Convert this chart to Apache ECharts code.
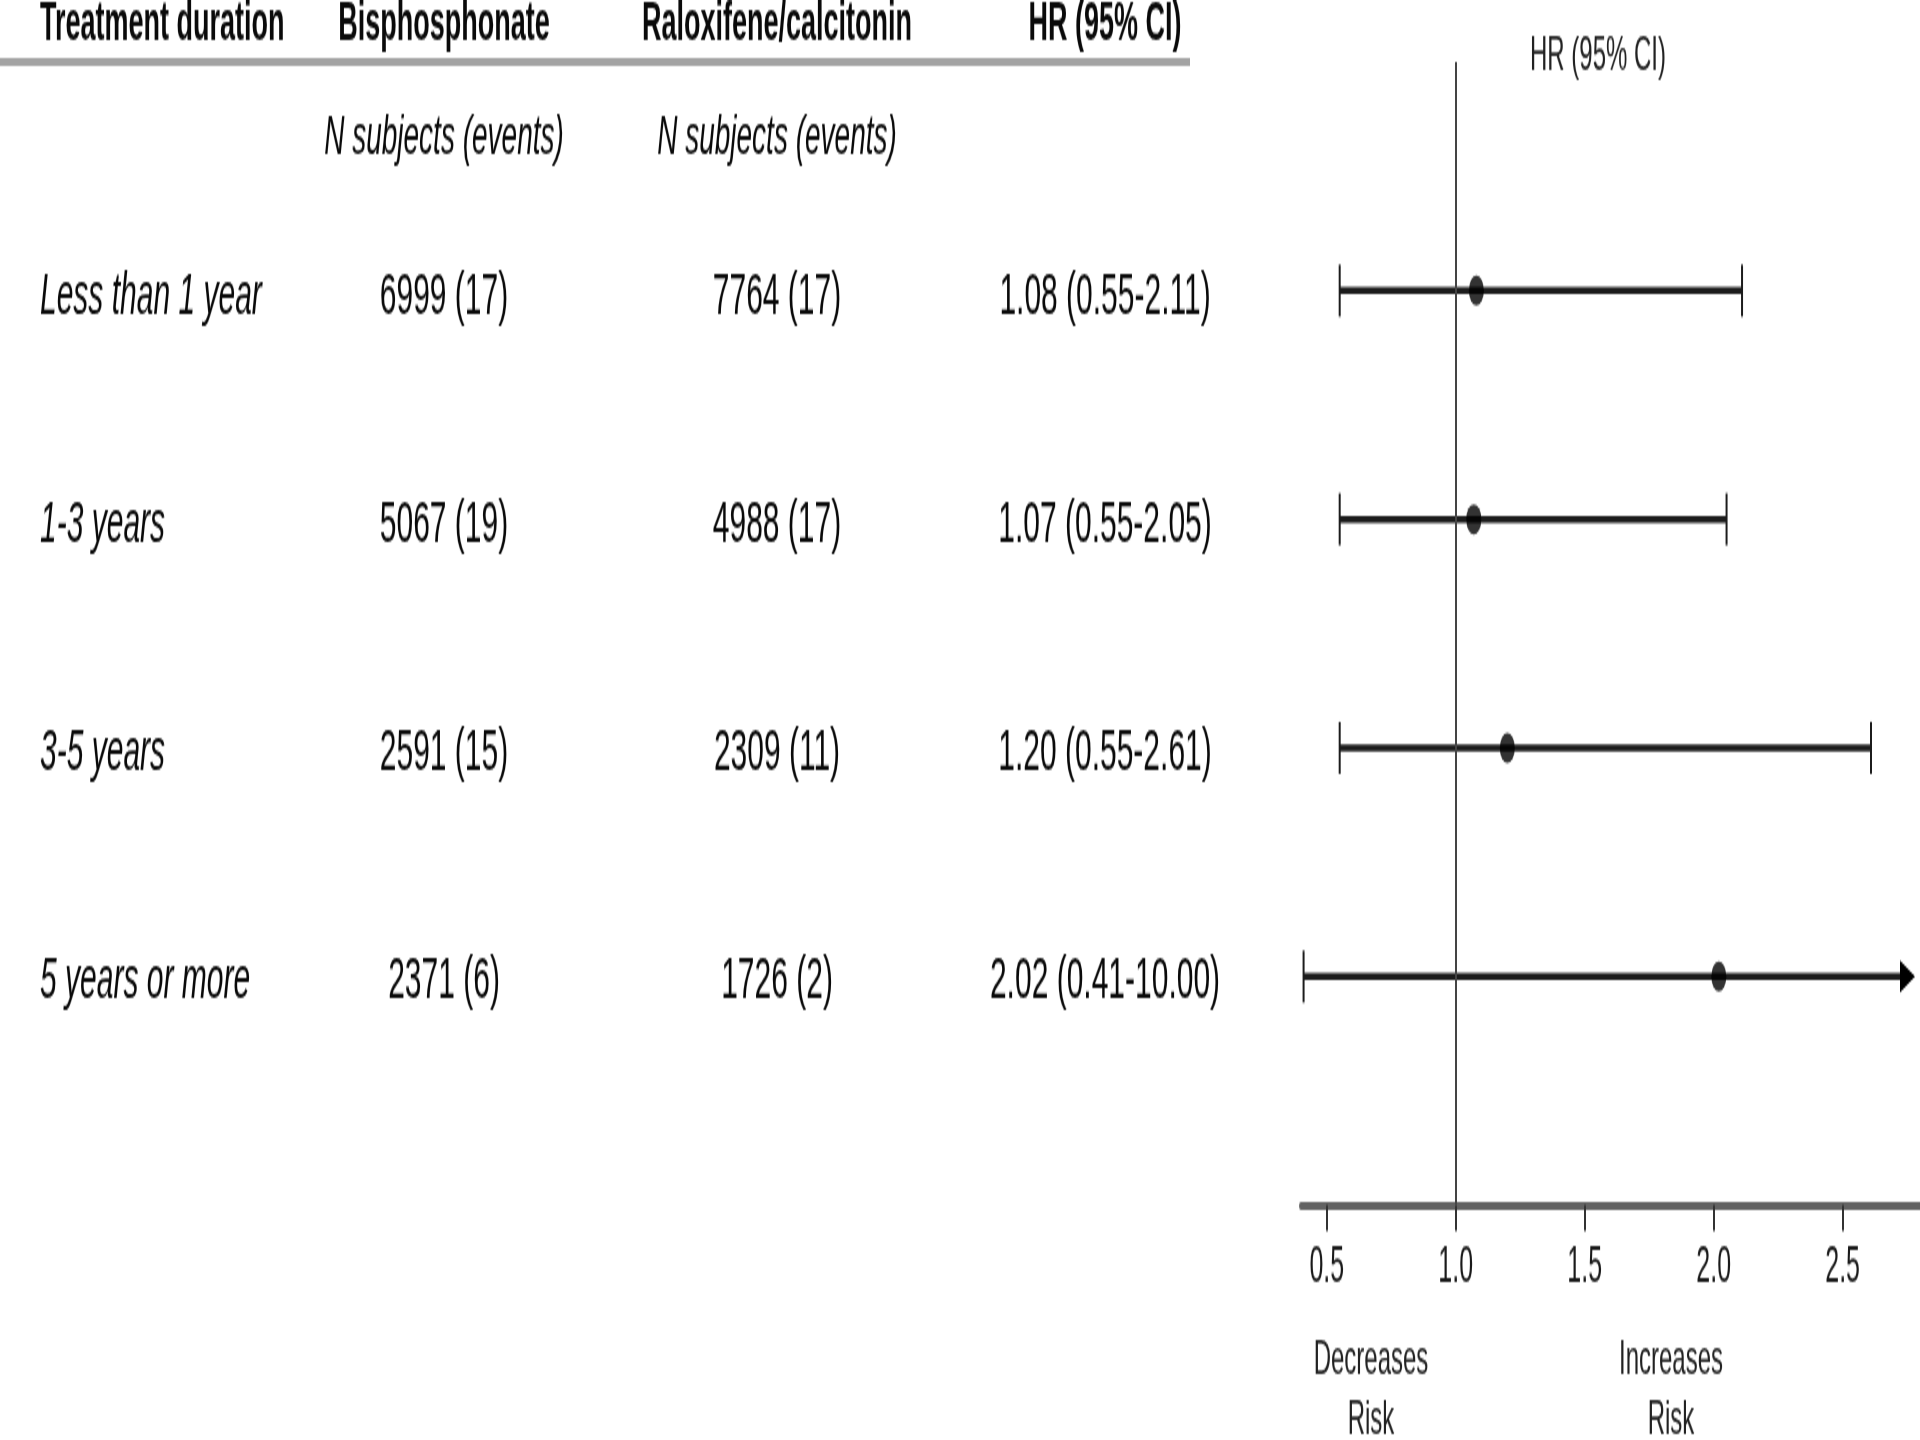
<!DOCTYPE html>
<html>
<head>
<meta charset="utf-8">
<script src="https://cdn.jsdelivr.net/npm/echarts@6/dist/echarts.min.js"></script>
<style>
  html, body { margin: 0; padding: 0; background: #fff; }
  #wrap { width: 1920px; height: 1440px; overflow: hidden; position: relative; background: #fff; }
  #chart { width: 1920px; height: 720px; transform: scaleY(2); transform-origin: 0 0; }
</style>
</head>
<body>
<div id="wrap"><div id="chart"></div></div>
<script>
// ---- data ----
const categories = ['Less than 1 year', '1-3 years', '3-5 years', '5 years or more'];
const bisSubjects = [6999, 5067, 2591, 2371];
const bisEvents = [17, 19, 15, 6];
const ralSubjects = [7764, 4988, 2309, 1726];
const ralEvents = [17, 17, 11, 2];
const hr = [1.08, 1.07, 1.20, 2.02];
const ciLow = [0.55, 0.55, 0.55, 0.41];
const ciHigh = [2.11, 2.05, 2.61, 10.00];
const xTicks = [0.5, 1.0, 1.5, 2.0, 2.5];
const headers = ['Treatment duration', 'Bisphosphonate', 'Raloxifene/calcitonin', 'HR (95% CI)'];
const subHeader = 'N subjects (events)';
const plotTitle = 'HR (95% CI)';
const refValue = 1.0;
const annotations = ['Decreases\nRisk', 'Increases\nRisk'];

// ---- layout (virtual space, stretched 2x vertically by CSS) ----
const X_MIN = 0.4, X_MAX = 2.8;
const FONT = '"Liberation Sans", Arial, Helvetica, sans-serif';
const ROW0 = 145.8, ROW_STEP = 114.2;
const TEXT_DY = 2.5;
const colX = [40, 444, 777, 1105];

const chart = echarts.init(document.getElementById('chart'), null, { renderer: 'canvas' });

const graphics = [];
function txt(x, y, text, opt) {
  graphics.push({
    type: 'text', x: x, y: y, silent: true,
    style: Object.assign({
      text: text, fill: '#0a0a0a', fontFamily: FONT, fontSize: 30,
      textAlign: 'center', textVerticalAlign: 'middle'
    }, opt || {})
  });
}
// header
txt(colX[0], 13, headers[0], { fontWeight: 'bold', fontSize: 27, textAlign: 'left' });
txt(colX[1], 13, headers[1], { fontWeight: 'bold', fontSize: 27 });
txt(colX[2], 13, headers[2], { fontWeight: 'bold', fontSize: 27 });
txt(colX[3], 13, headers[3], { fontWeight: 'bold', fontSize: 27 });
graphics.push({ type: 'rect', silent: true, shape: { x: 0, y: 29, width: 1190, height: 4 }, style: { fill: '#a3a3a3' } });
txt(colX[1], 69.5, subHeader, { fontStyle: 'italic', fontSize: 28 });
txt(colX[2], 69.5, subHeader, { fontStyle: 'italic', fontSize: 28 });
categories.forEach((c, i) => {
  const y = ROW0 + ROW_STEP * i + TEXT_DY;
  txt(colX[0], y, c, { fontStyle: 'italic', textAlign: 'left' });
  txt(colX[1], y, bisSubjects[i] + ' (' + bisEvents[i] + ')');
  txt(colX[2], y, ralSubjects[i] + ' (' + ralEvents[i] + ')');
  txt(colX[3], y, hr[i].toFixed(2) + ' (' + ciLow[i].toFixed(2) + '-' + ciHigh[i].toFixed(2) + ')');
});
// plot title and annotations
txt(1598, 28.5, plotTitle, { fontSize: 24, fill: '#222' });
txt(1371, 695.5, annotations[0], { fontSize: 24, fill: '#222', lineHeight: 29.5 });
txt(1671, 695.5, annotations[1], { fontSize: 24, fill: '#222', lineHeight: 29.5 });

const ciData = categories.map((c, i) => [ciLow[i], ciHigh[i], i]);
const ptData = categories.map((c, i) => [hr[i], i]);

const option = {
  backgroundColor: '#fff',
  animation: false,
  grid: { left: 1301, right: 0, top: 31, height: 571.6 },
  xAxis: {
    type: 'value', min: X_MIN, max: X_MAX, position: 'bottom',
    axisLine: { show: true, onZero: false, lineStyle: { color: '#626262', width: 4 } },
    axisTick: { show: true, customValues: xTicks, length: 13, inside: false, lineStyle: { color: '#333', width: 2 } },
    axisLabel: { show: true, customValues: xTicks, formatter: v => v.toFixed(1), fontSize: 25, color: '#1a1a1a', fontFamily: FONT, margin: 19 },
    splitLine: { show: false }
  },
  yAxis: { type: 'value', min: -1, max: 4, inverse: true, show: false },
  series: [
    {
      type: 'custom', name: 'CI', data: ciData, clip: false,
      encode: { x: [0, 1], y: 2 },
      renderItem: function (params, api) {
        const lo = api.value(0), hi = api.value(1), yi = api.value(2);
        const clipped = hi > X_MAX;
        const p1 = api.coord([lo, yi]);
        const p2 = api.coord([clipped ? X_MAX : hi, yi]);
        const tipX = p2[0] - 5;
        const children = [];
        children.push({ type: 'line', shape: { x1: p1[0], y1: p1[1], x2: clipped ? tipX - 12 : p2[0], y2: p1[1] }, style: { stroke: '#1c1c1c', lineWidth: 3.5 } });
        children.push({ type: 'line', shape: { x1: p1[0], y1: p1[1] - 13, x2: p1[0], y2: p1[1] + 13 }, style: { stroke: '#1c1c1c', lineWidth: 2 } });
        if (clipped) {
          children.push({ type: 'polygon', shape: { points: [[tipX - 15, p2[1] - 8], [tipX, p2[1]], [tipX - 15, p2[1] + 8]] }, style: { fill: '#000' } });
        } else {
          children.push({ type: 'line', shape: { x1: p2[0], y1: p2[1] - 13, x2: p2[0], y2: p2[1] + 13 }, style: { stroke: '#1c1c1c', lineWidth: 2 } });
        }
        return { type: 'group', children: children };
      },
      z: 2
    },
    {
      type: 'scatter', name: 'HR', data: ptData, symbol: 'circle', symbolSize: 15,
      itemStyle: { color: '#000' }, z: 3,
      markLine: {
        silent: true, symbol: 'none', label: { show: false },
        lineStyle: { color: '#444', width: 2, type: 'solid' },
        data: [{ xAxis: refValue }]
      }
    }
  ],
  graphic: { elements: graphics }
};
chart.setOption(option);
</script>
</body>
</html>
